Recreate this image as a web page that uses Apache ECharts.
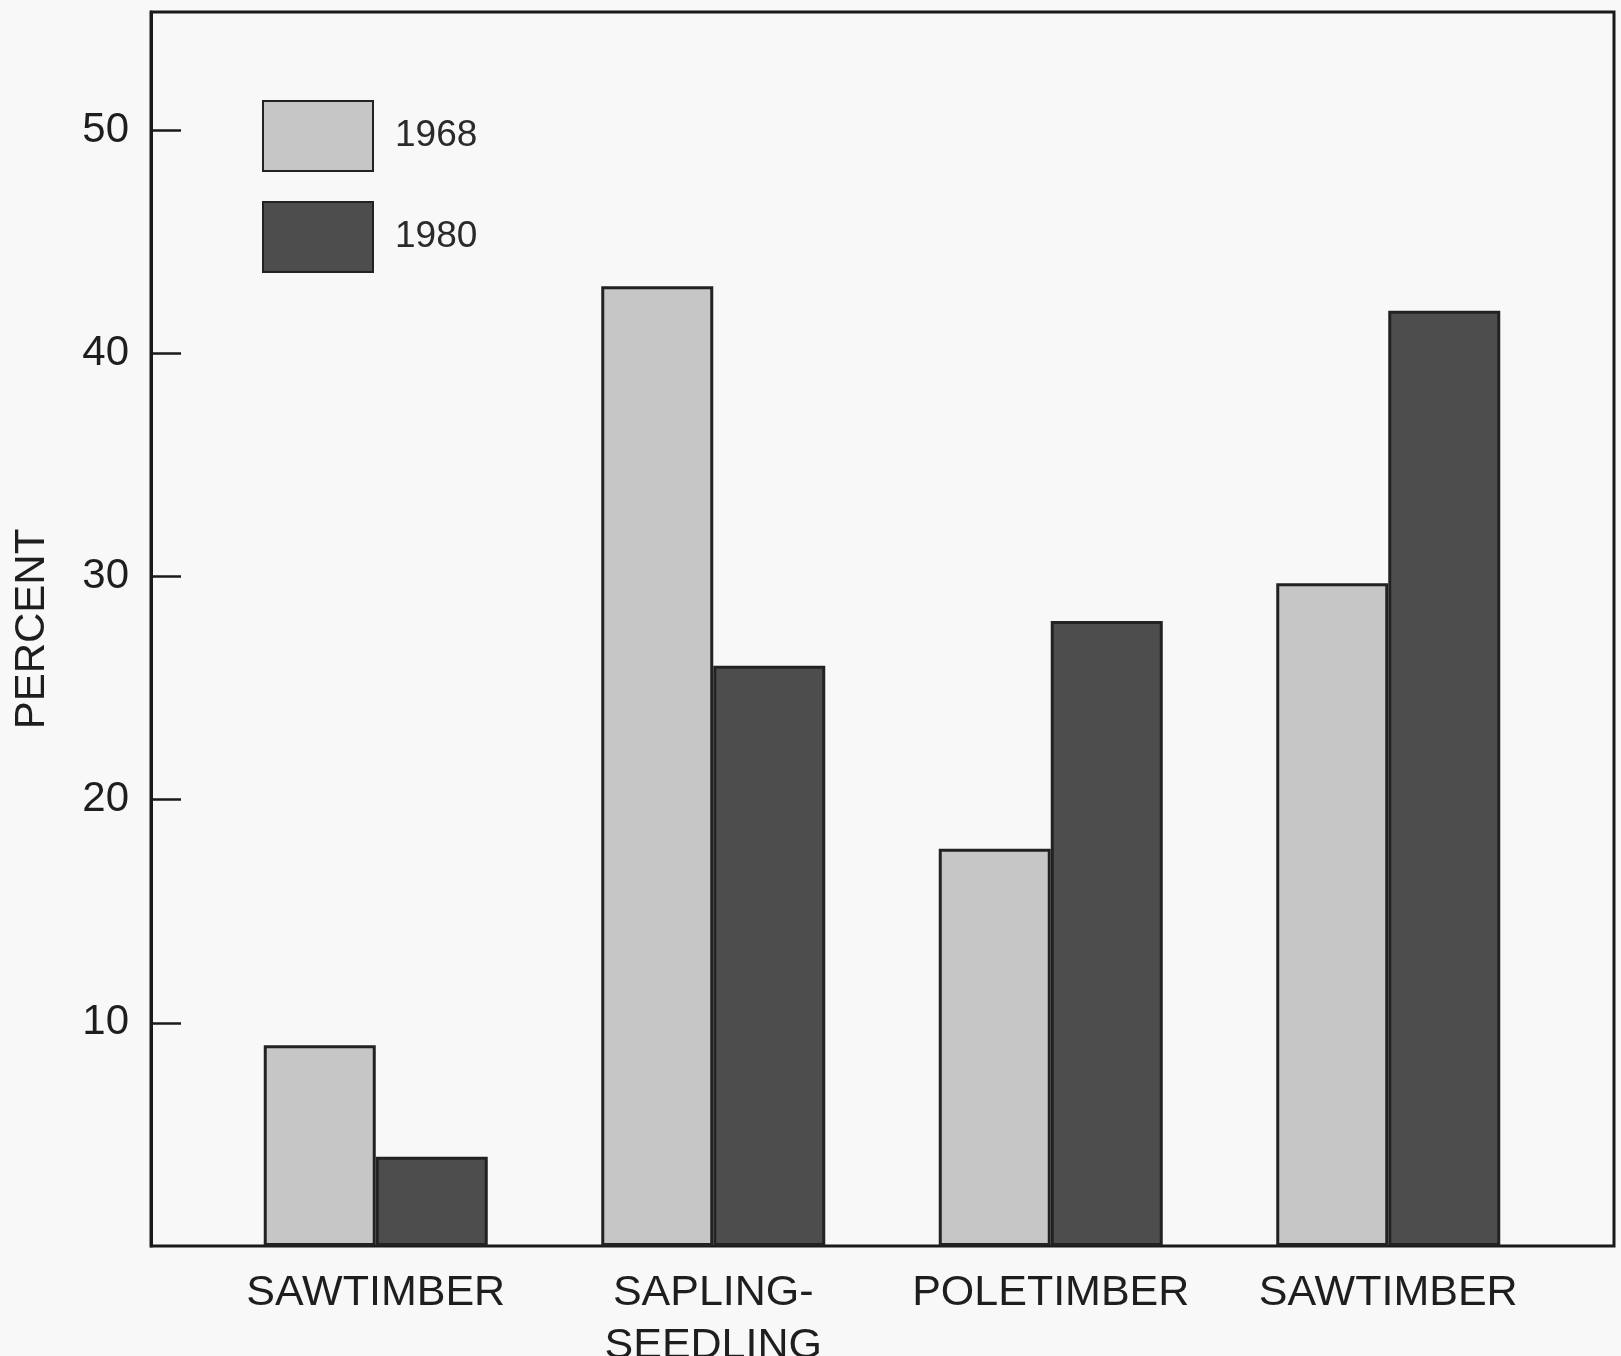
<!DOCTYPE html>
<html>
<head>
<meta charset="utf-8">
<script src="https://cdn.jsdelivr.net/npm/echarts@6/dist/echarts.min.js"></script>
<style>
  html, body { margin: 0; padding: 0; background: #f8f8f8; }
  #chart { width: 1621px; height: 1356px; }
</style>
</head>
<body>
<div id="chart"></div>
<script>
const categories = ['SAWTIMBER', 'SAPLING-\nSEEDLING', 'POLETIMBER', 'SAWTIMBER'];
const seriesNames = ['1968', '1980'];
const values1968 = [9, 43, 17.8, 29.7];
const values1980 = [4, 26, 28, 41.9];
const yTicks = [10, 20, 30, 40, 50];
const yTitle = 'PERCENT';

const FONT = '"Liberation Sans", Arial, Helvetica, sans-serif';
const INK = '#1a1a1a';
const Y_MAX = 55.29;

const chart = echarts.init(document.getElementById('chart'), null, { renderer: 'canvas' });

chart.setOption({
  backgroundColor: '#f8f8f8',
  animation: false,
  textStyle: { fontFamily: FONT, color: INK },
  grid: [
    { left: 151, right: 7, top: 12, bottom: 110, show: true, borderColor: INK, borderWidth: 3,
      backgroundColor: 'transparent', containLabel: false, outerBoundsMode: 'none' },
    { left: 207, right: 64, top: 12, bottom: 110, containLabel: false, outerBoundsMode: 'none' }
  ],
  legend: {
    data: seriesNames,
    orient: 'vertical',
    left: 257,
    top: 95,
    itemWidth: 110,
    itemHeight: 70,
    itemGap: 29,
    icon: 'rect',
    textStyle: { fontSize: 37, color: '#2a2a2a', fontFamily: FONT, padding: [4, 0, 0, 17] }
  },
  xAxis: [
    { type: 'value', gridIndex: 0, show: false, min: 0, max: 1 },
    {
      type: 'category', gridIndex: 1, data: categories,
      axisLine: { show: false }, axisTick: { show: false },
      axisLabel: { fontSize: 43, lineHeight: 53, color: '#1e1e1e', margin: 21, interval: 0, fontFamily: FONT }
    }
  ],
  yAxis: [
    {
      type: 'value', gridIndex: 0, min: 0, max: Y_MAX, interval: 10,
      name: yTitle, nameLocation: 'middle', nameGap: 98, nameRotate: 90,
      nameTextStyle: { fontSize: 42, color: '#1e1e1e', fontFamily: FONT },
      axisLine: { show: true, lineStyle: { color: INK, width: 3 } },
      axisTick: { show: true, inside: true, length: 30, lineStyle: { color: INK, width: 2.5 }, customValues: yTicks },
      axisLabel: {
        fontSize: 42, color: '#1e1e1e', margin: 22, fontFamily: FONT,
        customValues: yTicks,
        formatter: v => (yTicks.indexOf(v) >= 0 ? String(v) : '')
      },
      splitLine: { show: false }
    },
    { type: 'value', gridIndex: 1, min: 0, max: Y_MAX, show: false, splitLine: { show: false } }
  ],
  series: [
    {
      name: seriesNames[0], type: 'bar', xAxisIndex: 1, yAxisIndex: 1,
      data: values1968, barWidth: 112, barGap: '0%',
      itemStyle: { color: '#c6c6c6', borderColor: '#222', borderWidth: 3 }
    },
    {
      name: seriesNames[1], type: 'bar', xAxisIndex: 1, yAxisIndex: 1,
      data: values1980, barWidth: 112, barGap: '0%',
      itemStyle: { color: '#4d4d4d', borderColor: '#222', borderWidth: 3 }
    }
  ]
});
</script>
</body>
</html>
